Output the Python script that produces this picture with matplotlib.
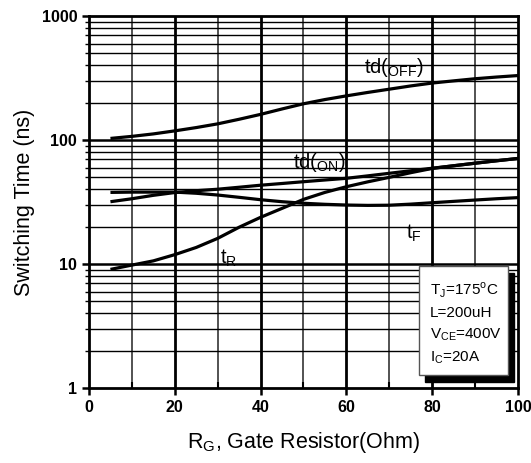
import matplotlib.pyplot as plt
from matplotlib.patches import Rectangle
from matplotlib.ticker import FixedLocator, NullFormatter

plt.rcParams['font.family'] = ['Liberation Sans', 'DejaVu Sans']
plt.rcParams['mathtext.fontset'] = 'custom'
plt.rcParams['mathtext.rm'] = 'Liberation Sans'

# gate resistor (Ohm) and switching times (ns)
rg = [5, 10, 15, 20, 25, 30, 35, 40, 45, 50, 55, 60, 65, 70, 75, 80, 85, 90, 95, 100]
td_off = [103, 107, 112, 118.5, 126, 135, 147, 161, 178, 196,
          212, 227, 242, 257, 273, 288, 300, 312, 322, 331]
td_on = [31.8, 33.6, 35.8, 37.7, 39, 40.1, 41.6, 43.2, 44.6, 46.1,
         47.6, 49.1, 51.4, 53.9, 56.5, 59.2, 62, 65, 68, 71]
t_f = [37.8, 38, 38, 38, 37.2, 36, 34.5, 33, 31.8, 30.9,
       30.3, 29.9, 29.7, 29.8, 30.4, 31.2, 32, 32.8, 33.6, 34.3]
t_r = [9.05, 9.8, 10.6, 11.9, 13.6, 16.1, 19.8, 23.8, 28.1, 33.2,
       37.8, 42, 46, 50, 54.5, 59, 62, 65, 68, 71]

fig = plt.figure(figsize=(5.31, 4.63), dpi=100)
ax = fig.add_axes((0.1676, 0.162, 0.8079, 0.8034))
ax.set_yscale('log')
ax.set_xlim(0, 100)
ax.set_ylim(1, 1000)

# grid
for x in [10, 30, 50, 70, 90]:
    ax.axvline(x, color='#444444', lw=1.3, zorder=1)
for x in [20, 40, 60, 80]:
    ax.axvline(x, color='black', lw=2.0, zorder=1)
for dec in [1, 10, 100]:
    for m in range(2, 10):
        ax.axhline(dec * m, color='black', lw=1.0, zorder=1)
for y in [10, 100]:
    ax.axhline(y, color='black', lw=1.8, zorder=1)

for ys in [td_off, td_on, t_f, t_r]:
    ax.plot(rg, ys, color='black', lw=2.3, zorder=3, solid_capstyle='butt')

ax.set_xticks([0, 20, 40, 60, 80, 100])
ax.xaxis.set_minor_locator(FixedLocator([10, 30, 50, 70, 90]))
ax.set_yticks([1, 10, 100, 1000])
ax.set_yticklabels(['1', '10', '100', '1000'])
ax.yaxis.set_minor_formatter(NullFormatter())
ax.tick_params(axis='both', which='major', direction='out', length=5, width=1.8,
               labelsize=11.5)
ax.tick_params(axis='x', which='minor', direction='in', length=4, width=1.5)
ax.tick_params(axis='y', which='minor', direction='out', length=3, width=1.0)
for lbl in ax.get_xticklabels() + ax.get_yticklabels():
    lbl.set_fontweight('bold')
for s in ax.spines.values():
    s.set_linewidth(2.0)

ax.set_xlabel(r'R$_\mathregular{G}$, Gate Resistor(Ohm)', fontsize=15.5, labelpad=11)
ax.set_ylabel('Switching Time (ns)', fontsize=15.5, labelpad=5)

ax.text(64, 350, r'td($_\mathregular{OFF}$)', fontsize=14.5, zorder=4)
ax.text(47.5, 60, r'td($_\mathregular{ON}$)', fontsize=14.5, zorder=4)
ax.text(74, 16, r't$_\mathregular{F}$', fontsize=14.5, zorder=4)
ax.text(30.5, 10, r't$_\mathregular{R}$', fontsize=14.5, zorder=4)

# condition box with drop shadow
ax.add_patch(Rectangle((0.783, 0.017), 0.207, 0.293, transform=ax.transAxes,
                       facecolor='black', edgecolor='black', zorder=5))
ax.add_patch(Rectangle((0.769, 0.035), 0.207, 0.293, transform=ax.transAxes,
                       facecolor='white', edgecolor='#555555', lw=1.0, zorder=6))
ax.text(0.795, 0.29,
        'T$_\\mathregular{J}$=175$^\\mathregular{o}$C\nL=200uH\n'
        'V$_\\mathregular{CE}$=400V\nI$_\\mathregular{C}$=20A',
        transform=ax.transAxes, fontsize=11, va='top', ha='left',
        linespacing=1.55, zorder=7)

fig.savefig('out.png', dpi=100)
